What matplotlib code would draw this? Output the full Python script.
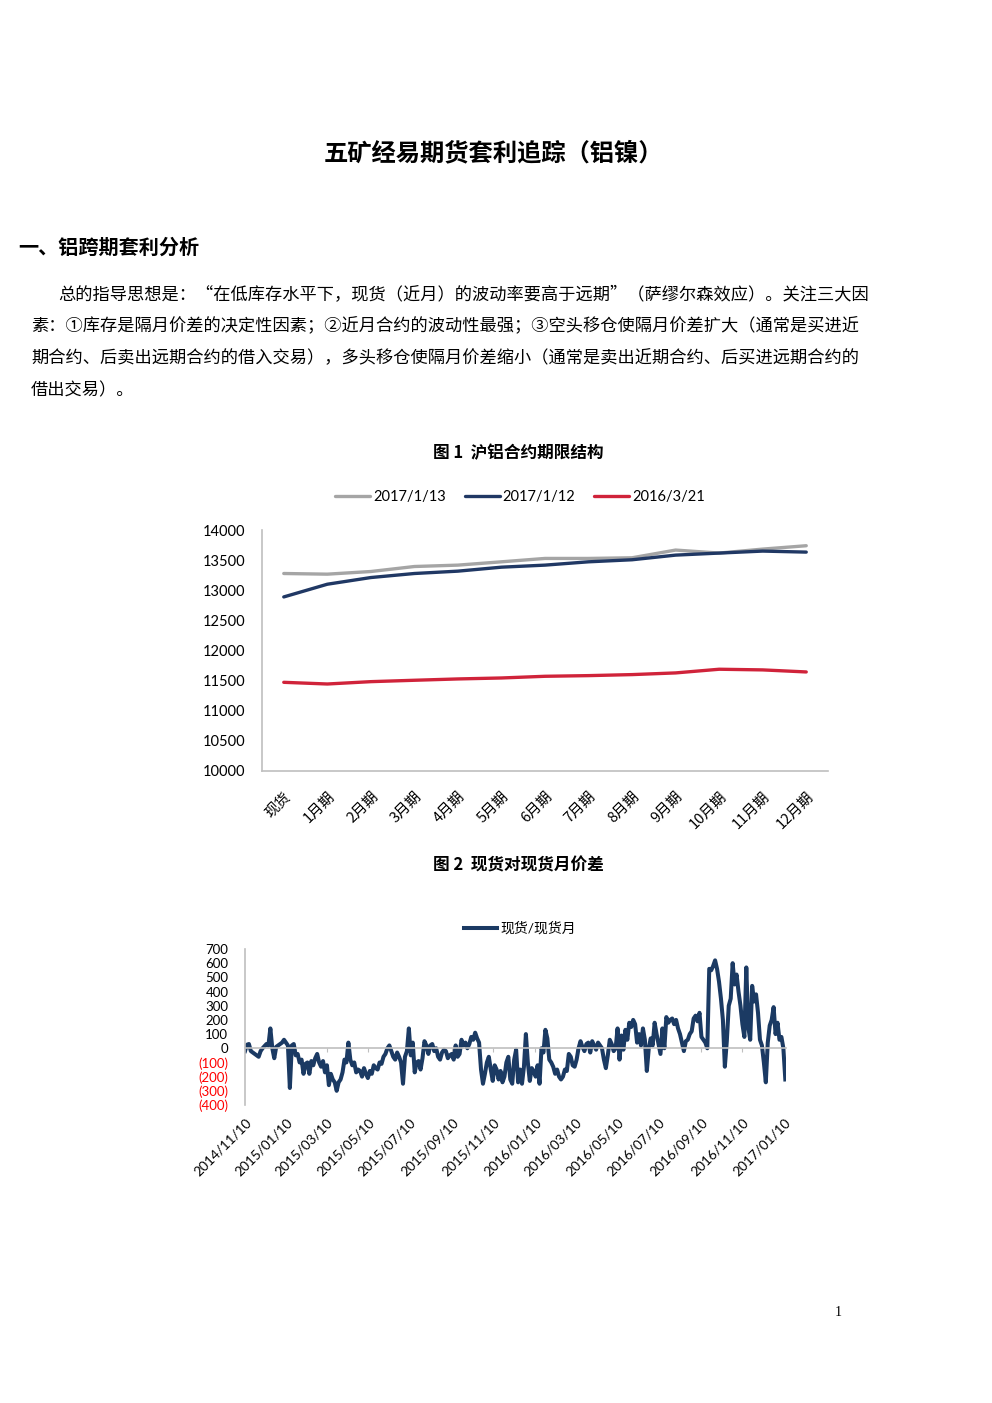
import matplotlib
matplotlib.use("Agg")
import matplotlib.pyplot as plt
import matplotlib.dates as mdates
import pandas as pd
import numpy as np

plt.rcParams['font.family'] = ['Noto Sans CJK SC', 'DejaVu Sans']

# ---------------- data ----------------
title = "五矿经易期货套利追踪（铝镍）"
heading = "一、铝跨期套利分析"
para_lines = [
    "总的指导思想是：“在低库存水平下，现货（近月）的波动率要高于远期”（萨缪尔森效应）。关注三大因",
    "素：①库存是隔月价差的决定性因素；②近月合约的波动性最强；③空头移仓使隔月价差扩大（通常是买进近",
    "期合约、后卖出远期合约的借入交易），多头移仓使隔月价差缩小（通常是卖出近期合约、后买进远期合约的",
    "借出交易）。",
]

fig1_title = "图 1  沪铝合约期限结构"
categories = ["现货", "1月期", "2月期", "3月期", "4月期", "5月期", "6月期",
              "7月期", "8月期", "9月期", "10月期", "11月期", "12月期"]
series1_names = ["2017/1/13", "2017/1/12", "2016/3/21"]
s_20170113 = [13278, 13267, 13311, 13394, 13417, 13472, 13528, 13528, 13539, 13667, 13617, 13683, 13739]
s_20170112 = [12889, 13100, 13211, 13278, 13317, 13383, 13417, 13472, 13506, 13583, 13617, 13650, 13633]
s_20160321 = [11472, 11444, 11483, 11506, 11528, 11544, 11572, 11583, 11600, 11628, 11689, 11678, 11644]
y1_ticks = [10000, 10500, 11000, 11500, 12000, 12500, 13000, 13500, 14000]

fig2_title = "图 2  现货对现货月价差"
series2_name = "现货/现货月"
series2_start = "2014-11-10"
series2_end = "2017-01-12"
spread = [
    -20, 25, 30, -20, -30, -40, -50, -60, -20, 0, 15, 30, 20, 140, 0, -70, 10, 20, 30, 40,
    60, 40, 20, -280, 20, 30, -50, -40, -100, -80, -180, -110, -100, -180, -90, -120, -70, -40, -100, -130,
    -90, -170, -120, -260, -180, -220, -240, -300, -240, -220, -170, -80, -100, 40, -80, -120, -100, -170, -150, -160,
    -200, -140, -180, -210, -160, -180, -120, -140, -150, -100, -110, -60, -40, 0, 20, -20, -60, -80, -30, -60,
    -100, -250, -60, -20, 140, -50, 40, -170, -100, -90, -150, -70, 50, 20, -40, 20, 30, -20, 0, -60,
    -80, -30, -10, -20, -70, -50, -40, -80, 20, -60, -40, 60, 20, 40, 0, 30, 80, 60, 110, 70,
    40, -150, -250, -180, -100, -60, -150, -230, -120, -150, -220, -160, -240, -200, -100, -60, -220, -250, -80, -10,
    -240, -150, -250, -130, 100, -100, -230, -140, -160, -200, -120, -250, 0, -30, 130, 70, -80, -100, -130, -180,
    -150, -200, -220, -200, -150, -160, -40, -60, -120, -130, -80, 0, 50, 10, -20, 30, 40, -30, 50, 20,
    -10, 40, 20, 0, -80, -140, -50, 60, 30, -20, 0, 140, -80, 90, -10, 130, 60, 180, 150, 200,
    170, 40, 100, 20, 140, 60, -160, 0, 70, 20, 180, 100, 30, -40, 140, 0, 220, 180, 200, 210,
    170, 200, 140, 100, 40, -20, 50, 60, 100, 120, 210, 230, 190, 250, 80, 60, 40, 0, 560, 550,
    580, 620, 560, 470, 350, 200, -130, 50, 300, 350, 600, 450, 520, 400, 300, 170, 80, 570, 150, 60,
    440, 330, 380, 250, 60, 20, -100, -240, 40, 160, 200, 290, 100, 180, 60, 80, 0, -220,
]
x2_tick_labels = ["2014/11/10", "2015/01/10", "2015/03/10", "2015/05/10", "2015/07/10",
                  "2015/09/10", "2015/11/10", "2016/01/10", "2016/03/10", "2016/05/10",
                  "2016/07/10", "2016/09/10", "2016/11/10", "2017/01/10"]
y2_ticks = [-400, -300, -200, -100, 0, 100, 200, 300, 400, 500, 600, 700]

# ---------------- figure ----------------
W, H = 992, 1403
fig = plt.figure(figsize=(W / 100, H / 100), dpi=100)
fig.patch.set_facecolor("white")


def ftext(x, y, s, **kw):
    return fig.text(x / W, 1 - y / H, s, **kw)


ftext(493, 153, title, fontsize=17.5, fontweight="bold", ha="center", va="center")
ftext(18, 247, heading, fontsize=14.5, fontweight="bold", ha="left", va="center")
para_y = [295, 326, 358, 390]
para_x = [58, 31, 31, 31]
for s, x, y in zip(para_lines, para_x, para_y):
    ftext(x, y, s, fontsize=12.4, ha="left", va="center")

ftext(518, 453, fig1_title, fontsize=12, fontweight="bold", ha="center", va="center")
ftext(518, 865, fig2_title, fontsize=12, fontweight="bold", ha="center", va="center")
ftext(838, 1312, "1", fontsize=10, ha="center", va="center", family="Liberation Serif")

num_font = ["Lato", "Noto Sans CJK SC"]
axis_gray = "#BFBFBF"

# ---------------- chart 1 ----------------
ax1 = fig.add_axes([262 / W, 1 - 771 / H, (828 - 262) / W, (771 - 530) / H])
xs = np.arange(len(categories))
colors1 = ["#A5A5A5", "#203864", "#D0233A"]
for vals, name, c in zip([s_20170113, s_20170112, s_20160321], series1_names, colors1):
    ax1.plot(xs, vals, color=c, lw=2.4, label=name, solid_capstyle="round")
ax1.set_xlim(-0.5, len(categories) - 0.5)
ax1.set_ylim(10000, 14000)
ax1.set_yticks(y1_ticks)
ax1.set_yticklabels([str(v) for v in y1_ticks], family=num_font, fontsize=10.5)
ax1.set_xticks(xs)
ax1.set_xticklabels(categories, rotation=45, ha="right", rotation_mode="anchor", fontsize=10.5)
ax1.tick_params(axis="both", length=0)
ax1.tick_params(axis="y", pad=12)
ax1.tick_params(axis="x", pad=13)
for sp in ["top", "right"]:
    ax1.spines[sp].set_visible(False)
for sp in ["left", "bottom"]:
    ax1.spines[sp].set_color(axis_gray)
    ax1.spines[sp].set_linewidth(1.2)
ax1.legend(loc="center", bbox_to_anchor=(520 / W, 1 - 497 / H), bbox_transform=fig.transFigure,
           ncol=3, frameon=False, handlelength=2.4, handletextpad=0.2, columnspacing=1.3,
           prop={"family": num_font, "size": 10.5})

# ---------------- chart 2 ----------------
ax2 = fig.add_axes([245 / W, 1 - 1105 / H, (786 - 245) / W, (1105 - 949) / H])
ax2.spines["bottom"].set_position(("data", 0))
ax2.spines["bottom"].set_color(axis_gray)
ax2.spines["bottom"].set_linewidth(1.2)
ax2.spines["left"].set_color(axis_gray)
ax2.spines["left"].set_linewidth(1.2)
for sp in ["top", "right"]:
    ax2.spines[sp].set_visible(False)

dates2 = pd.date_range(series2_start, series2_end, periods=len(spread))
xnum = mdates.date2num(dates2.to_pydatetime())
ax2.plot(xnum, spread, color="#1B3A63", lw=2.9, label=series2_name)
ax2.set_ylim(-400, 700)
ax2.set_xlim(mdates.date2num(pd.Timestamp("2014-11-10").to_pydatetime()),
             mdates.date2num(pd.Timestamp("2017-01-13").to_pydatetime()))
tick_nums = [mdates.date2num(pd.Timestamp(s.replace("/", "-")).to_pydatetime()) for s in x2_tick_labels]
ax2.set_xticks(tick_nums)
ax2.set_xticklabels(x2_tick_labels, rotation=45, ha="right", rotation_mode="anchor",
                    family=num_font, fontsize=9.8)
ax2.set_yticks(y2_ticks)
ax2.set_yticklabels([f"({abs(v)})" if v < 0 else str(v) for v in y2_ticks],
                    family=num_font, fontsize=9.5)
for lab, v in zip(ax2.get_yticklabels(), y2_ticks):
    lab.set_color("#FF0000" if v < 0 else "black")
ax2.tick_params(axis="x", length=3, color=axis_gray, pad=46)
ax2.tick_params(axis="y", length=0, pad=12)
ax2.legend(loc="center", bbox_to_anchor=(520 / W, 1 - 928 / H), bbox_transform=fig.transFigure,
           ncol=1, frameon=False, handlelength=2.4, handletextpad=0.2,
           prop={"family": num_font, "size": 10})

fig.savefig("out.png", dpi=100, facecolor="white")
